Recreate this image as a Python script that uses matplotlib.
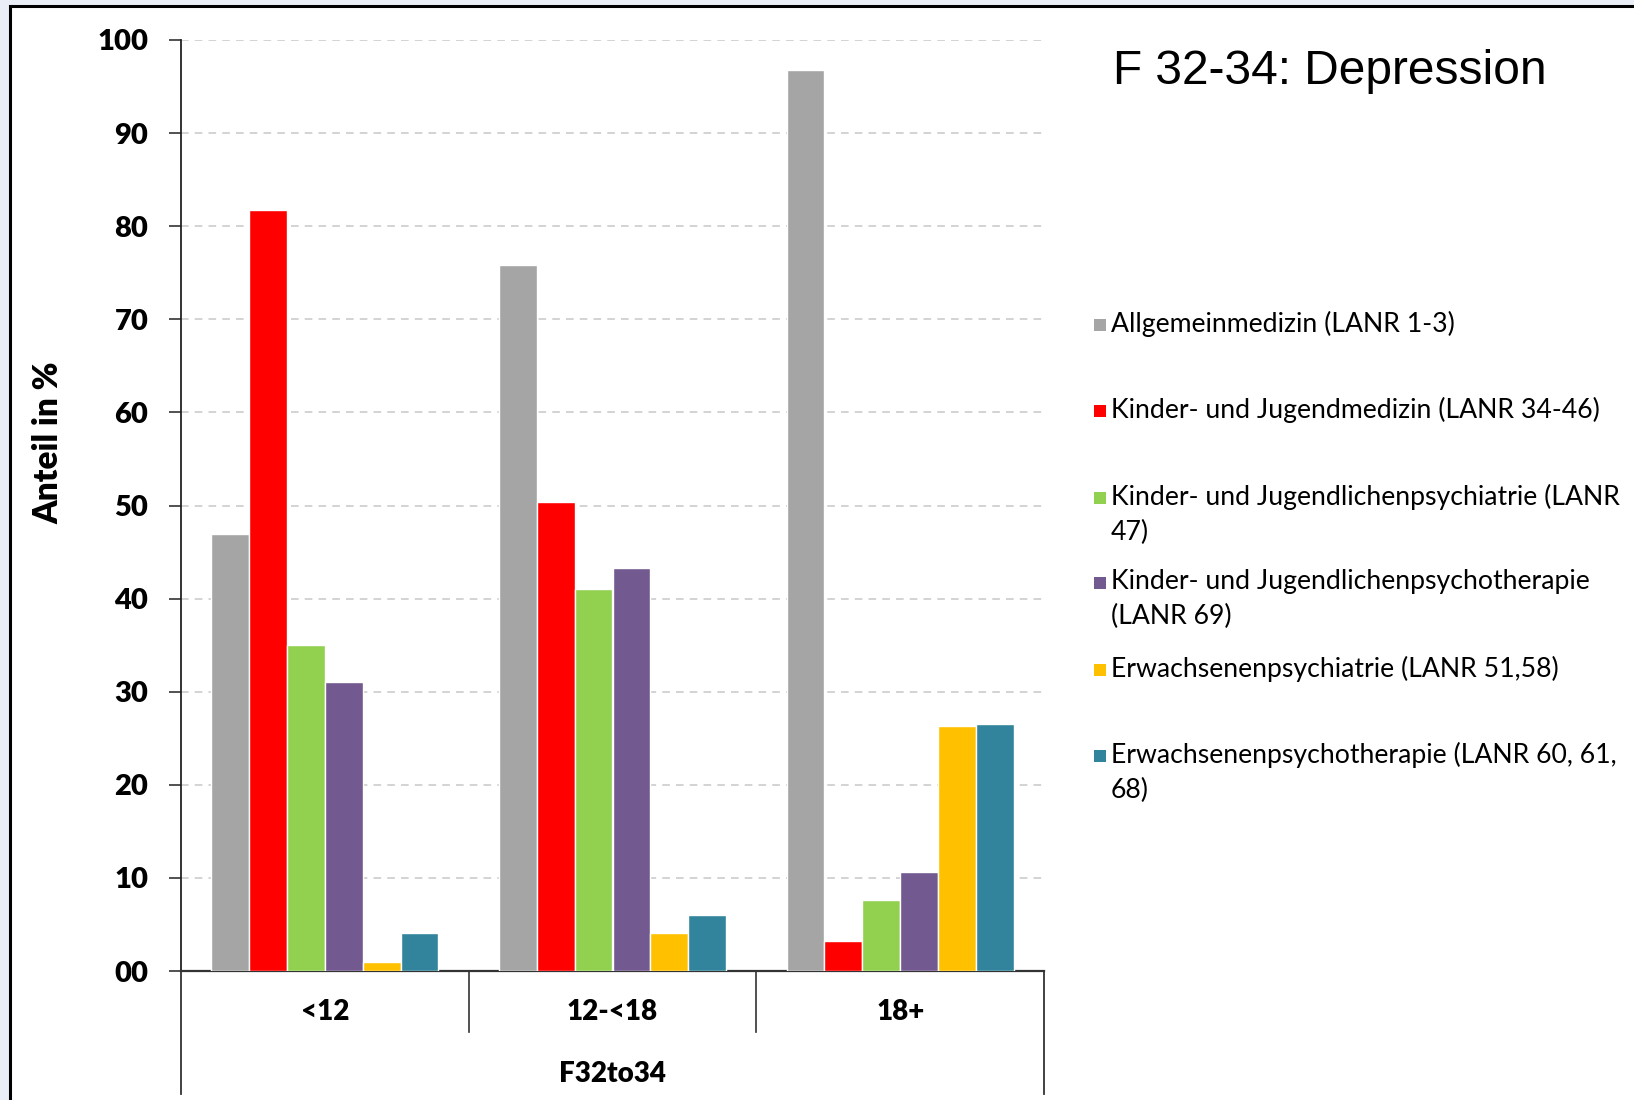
import matplotlib
matplotlib.use("Agg")
import matplotlib.pyplot as plt
from matplotlib.patches import Rectangle
import numpy as np

# ---- data ----
categories = ["<12", "12-<18", "18+"]
group_label = "F32to34"
series_names = [
    "Allgemeinmedizin (LANR 1-3)",
    "Kinder- und Jugendmedizin (LANR 34-46)",
    "Kinder- und Jugendlichenpsychiatrie (LANR\n47)",
    "Kinder- und Jugendlichenpsychotherapie\n(LANR 69)",
    "Erwachsenenpsychiatrie (LANR 51,58)",
    "Erwachsenenpsychotherapie (LANR 60, 61,\n68)",
]
allgemein = [46.9, 75.8, 96.8]
kinder_jugendmed = [81.7, 50.4, 3.2]
kj_psychiatrie = [35.0, 41.0, 7.6]
kj_psychotherapie = [31.0, 43.3, 10.6]
erw_psychiatrie = [1.0, 4.1, 26.3]
erw_psychotherapie = [4.1, 6.0, 26.5]
series_values = [allgemein, kinder_jugendmed, kj_psychiatrie,
                 kj_psychotherapie, erw_psychiatrie, erw_psychotherapie]
colors = ["#A5A5A5", "#FF0000", "#92D050", "#72598F", "#FFC000", "#31849B"]
yticks = [0, 10, 20, 30, 40, 50, 60, 70, 80, 90, 100]
ytick_labels = ["00", "10", "20", "30", "40", "50", "60", "70", "80", "90", "100"]
title = "F 32-34: Depression"
ylabel = "Anteil in %"

W, H = 1634, 1100
fig = plt.figure(figsize=(W / 100, H / 100), dpi=100)
fig.patch.set_facecolor("#EAEEF6")

# white framed panel
fig.patches.append(Rectangle((10 / W, -0.05), 1.1, 1 - 6 / H + 0.05,
                             transform=fig.transFigure, facecolor="white",
                             edgecolor="black", linewidth=2.2, zorder=-5))

ax_l, ax_r, ax_t, ax_b = 181, 1044, 40, 971
ax = fig.add_axes([ax_l / W, 1 - ax_b / H, (ax_r - ax_l) / W, (ax_b - ax_t) / H])
ax.set_zorder(2)
ax.set_facecolor("none")

x = np.arange(len(categories)) + 0.5
n = len(series_values)
bw = 0.79 / n
for i, (vals, c) in enumerate(zip(series_values, colors)):
    ax.bar(x + (i - (n - 1) / 2) * bw, vals, width=bw, color=c,
           edgecolor="white", linewidth=1.0, zorder=3)

ax.set_xlim(0, len(categories))
ax.set_ylim(0, 100)
ax.set_yticks(yticks)
ax.set_yticklabels(ytick_labels, fontfamily="Lato", fontweight="heavy", fontsize=21)
ax.tick_params(axis="y", length=8.5, width=1.2, color="#333333", pad=15)
ax.set_xticks([])
ax.yaxis.grid(True, linestyle=(0, (5, 4)), color="#C8C8C8", linewidth=1.1, zorder=0)
ax.set_axisbelow(True)
for s in ["top", "right"]:
    ax.spines[s].set_visible(False)
ax.spines["left"].set_color("#222222")
ax.spines["left"].set_linewidth(1.3)
ax.spines["bottom"].set_color("#333333")
ax.spines["bottom"].set_linewidth(1.6)

# multilevel category axis lines
ph = ax_b - ax_t
sep_bottom = -(1032 - ax_b) / ph
outer_bottom = -(1094 - ax_b) / ph
trans = ax.get_xaxis_transform()
for xs in range(1, len(categories)):
    ax.plot([xs, xs], [0, sep_bottom], transform=trans, color="#333333",
            lw=1.2, clip_on=False)
for xs in [0, len(categories)]:
    ax.plot([xs, xs], [0, outer_bottom], transform=trans, color="#333333",
            lw=1.3, clip_on=False)
for xi, lab in zip(x, categories):
    ax.text(xi, -(1012 - ax_b) / ph, lab, transform=trans, ha="center",
            va="center", fontfamily="Lato", fontweight="heavy", fontsize=20)
ax.text(len(categories) / 2, -(1074 - ax_b) / ph, group_label, transform=trans,
        ha="center", va="center", fontfamily="Lato", fontweight="heavy", fontsize=20)

# y label
fig.text(48 / W, 1 - 443 / H, ylabel, rotation=90, ha="center", va="center",
         fontfamily="Lato", fontweight="heavy", fontsize=24)

# title
fig.text(1113 / W, 1 - 71 / H, title, ha="left", va="center",
         fontfamily="Liberation Sans", fontsize=34.5)

# legend (manual)
leg_y = [325, 411, 498, 583, 670, 756]
for name, c, yy in zip(series_names, colors, leg_y):
    fig.patches.append(Rectangle((1094 / W, 1 - (yy + 6) / H), 12 / W, 12 / H,
                                 transform=fig.transFigure, facecolor=c,
                                 edgecolor="none", zorder=3))
    fig.text(1111 / W, 1 - (yy - 14) / H, name, ha="left", va="top",
             fontfamily="Lato", fontsize=19.2, linespacing=1.5)

fig.savefig("out.png", dpi=100, facecolor=fig.get_facecolor())
